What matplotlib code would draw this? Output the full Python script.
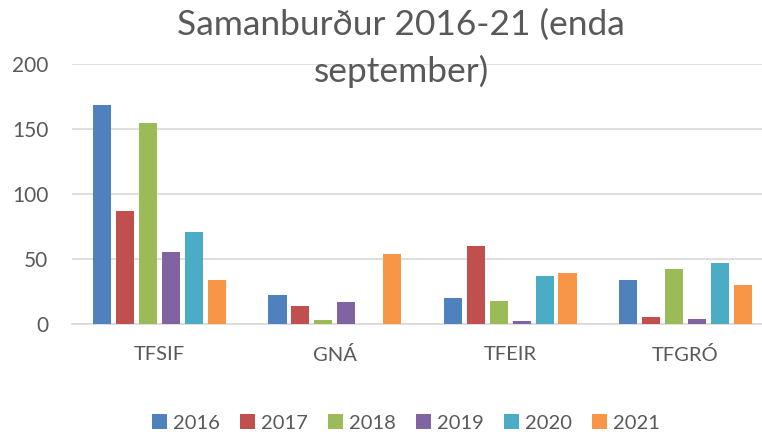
import numpy as np
import matplotlib
matplotlib.use("Agg")
import matplotlib.pyplot as plt

categories = ["TFSIF", "GNÁ", "TFEIR", "TFGRÓ"]
years = ["2016", "2017", "2018", "2019", "2020", "2021"]
values = {
    "2016": [168, 22, 20, 34],
    "2017": [87, 14, 60, 5],
    "2018": [154, 3, 18, 42],
    "2019": [55, 17, 2, 4],
    "2020": [71, 0, 37, 47],
    "2021": [34, 54, 39, 30],
}
colors = ["#4F81BD", "#C0504D", "#9BBB59", "#8064A2", "#4BACC6", "#F79646"]
yticks = [0, 50, 100, 150, 200]

plt.rcParams["font.family"] = ["Lato", "DejaVu Sans"]
text_color = "#595959"

W, H = 762, 434
fig = plt.figure(figsize=(W / 100, H / 100), dpi=100)
# axes spans x 72..773 px, y 63..324 px
ax = fig.add_axes([72 / W, 1 - 324 / H, 701 / W, (324 - 63.5) / H])

x = np.arange(len(categories))
step = 0.131
width = 0.103
for i, yr in enumerate(years):
    ax.bar(x + (i - 2.5) * step, values[yr], width=width, color=colors[i],
           label=yr, zorder=3)

ax.set_xlim(-0.5, len(categories) - 0.5)
ax.set_ylim(0, 200)
ax.set_yticks(yticks)
ax.set_xticks(x)
ax.set_xticklabels(categories)
ax.grid(axis="y", color="#d9d9d9", linewidth=1.2, zorder=0)
for s in ["top", "right", "left"]:
    ax.spines[s].set_visible(False)
ax.spines["bottom"].set_color("#d9d9d9")
ax.spines["bottom"].set_linewidth(1.2)
ax.tick_params(axis="y", length=0, labelsize=15, colors=text_color, pad=17)
ax.tick_params(axis="x", length=0, labelsize=14.5, colors=text_color, pad=16)

fig.text(401 / W, 1 - 25 / H, "Samanburður 2016-21 (enda", ha="center", va="center",
         fontsize=25.5, color=text_color)
fig.text(401 / W, 1 - 71 / H, "september)", ha="center", va="center",
         fontsize=25.5, color=text_color)

fig.legend(loc="center", bbox_to_anchor=(406 / W, 1 - 423 / H), ncol=6,
           frameon=False, fontsize=14.5, handlelength=0.75, handleheight=0.75,
           handletextpad=0.3, columnspacing=1.0, labelcolor=text_color)

fig.savefig("out.png", dpi=100)
